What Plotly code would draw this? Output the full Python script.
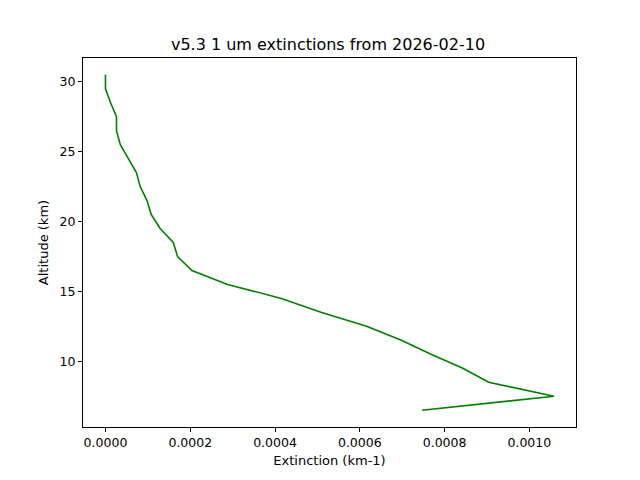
import plotly.graph_objects as go

# altitude levels (km) and 1 um extinction (km-1)
altitude = [30.5, 29.5, 28.5, 27.5, 26.5, 25.5, 24.5, 23.5, 22.5, 21.5, 20.5, 19.5,
            18.5, 17.5, 16.5, 15.5, 14.5, 13.5, 12.5, 11.5, 10.5, 9.5, 8.5, 7.5, 6.5]
extinction = [0.0, 0.0, 0.000012, 0.000026, 0.000026, 0.000035, 0.000054, 0.000073,
              0.000082, 0.000098, 0.000108, 0.000129, 0.00016, 0.00017, 0.000204,
              0.000288, 0.000415, 0.00051, 0.000616, 0.000698, 0.000768, 0.000843,
              0.000904, 0.001058, 0.000747]

fig = go.Figure(go.Scatter(x=extinction, y=altitude, mode='lines',
                           line=dict(color='#008000', width=1.6)))

axis_style = dict(showline=True, linecolor='black', linewidth=1, mirror=True,
                  ticks='outside', ticklen=4, tickcolor='black', showgrid=False,
                  zeroline=False, tickfont=dict(size=12.5, color='black'))

# page body adds ~8px offset, so margins are nudged to compensate
fig.update_layout(
    width=640, height=480,
    margin=dict(l=75, r=72, t=50, b=61),
    paper_bgcolor='white', plot_bgcolor='white',
    font=dict(family='DejaVu Sans', color='black'),
    title=dict(text='v5.3 1 um extinctions from 2026-02-10', x=0.5, xanchor='center',
               yref='container', y=0.925, yanchor='middle', font=dict(size=16)),
    showlegend=False,
)
fig.update_xaxes(range=[-0.000053, 0.00111], tickvals=[0, 0.0002, 0.0004, 0.0006, 0.0008, 0.001],
                 ticktext=['0.0000', '0.0002', '0.0004', '0.0006', '0.0008', '0.0010'],
                 title=dict(text='Extinction (km-1)', font=dict(size=13), standoff=6), **axis_style)
fig.update_yaxes(range=[5.3, 31.7], tickvals=[10, 15, 20, 25, 30],
                 title=dict(text='Altitude (km)', font=dict(size=13), standoff=8), **axis_style)

fig.write_html("out.html")
